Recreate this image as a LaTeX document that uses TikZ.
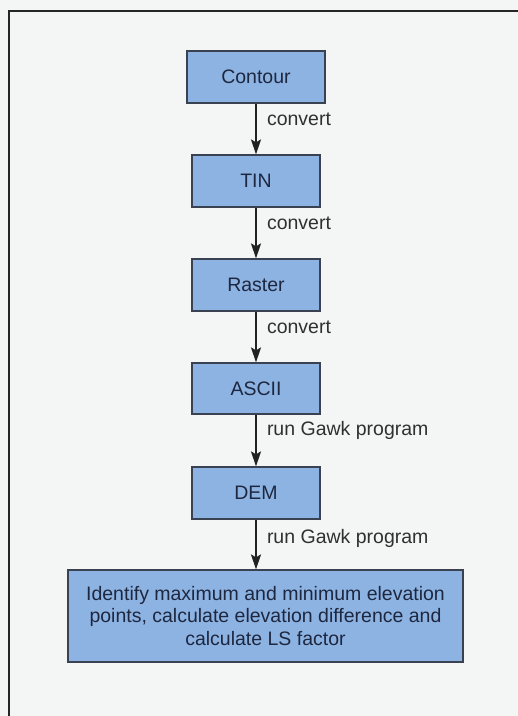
\documentclass[tikz,border=0pt]{standalone}
\usepackage{fontspec}
\setmainfont{Liberation Sans}
\usetikzlibrary{arrows.meta}
\definecolor{bgc}{HTML}{F4F5F5}
\definecolor{boxfill}{HTML}{8DB3E2}
\definecolor{boxline}{HTML}{3A4150}
\definecolor{txt}{HTML}{1E2740}
\definecolor{lbl}{HTML}{303030}
\definecolor{arr}{HTML}{222222}
\tikzset{
  stepbox/.style={draw=boxline, fill=boxfill, line width=1.2pt, text=txt,
    font=\fontsize{19.5}{22.5}\selectfont, minimum height=52pt, inner sep=0pt, align=center},
  flow/.style={draw=arr, line width=2pt, -{Stealth[length=15pt,width=10pt,inset=3pt]}},
  lab/.style={right, font=\fontsize{19.5}{22}\selectfont, text=lbl, inner sep=0pt, xshift=10pt}
}
\begin{document}
\begin{tikzpicture}[x=1pt,y=-1pt]
\useasboundingbox (0,0) rectangle (518,716);
\fill[bgc] (0,0) rectangle (518,716);
\begin{scope}
\clip (0,0) rectangle (518,716);
\draw[line width=2pt, draw=black!85] (9,11) rectangle (530,730);
\end{scope}
\node[stepbox, minimum width=138pt] (contour) at (256,77) {Contour};
\node[stepbox, minimum width=128pt] (tin) at (256,181) {TIN};
\node[stepbox, minimum width=128pt] (raster) at (256,285) {Raster};
\node[stepbox, minimum width=128pt, minimum height=51pt] (ascii) at (256,388.5) {ASCII};
\node[stepbox, minimum width=128pt] (dem) at (256,493) {DEM};
\node[stepbox, minimum width=395pt, minimum height=92pt] (final) at (265.5,616)
  {Identify maximum and minimum elevation\\points, calculate elevation difference and\\calculate LS factor};
\draw[flow] (contour.south) -- node[lab, pos=0.3] (l1) {convert} (tin.north);
\draw[flow] (tin.south) -- node[lab, pos=0.3] (l2) {convert} (raster.north);
\draw[flow] (raster.south) -- node[lab, pos=0.3] (l3) {convert} (ascii.north);
\draw[flow] (ascii.south) -- node[lab, pos=0.3] (l4) {run Gawk program} (dem.north);
\draw[flow] (dem.south) -- node[lab, pos=0.38] (l5) {run Gawk program} (dem.south |- final.north);
\end{tikzpicture}
\end{document}
